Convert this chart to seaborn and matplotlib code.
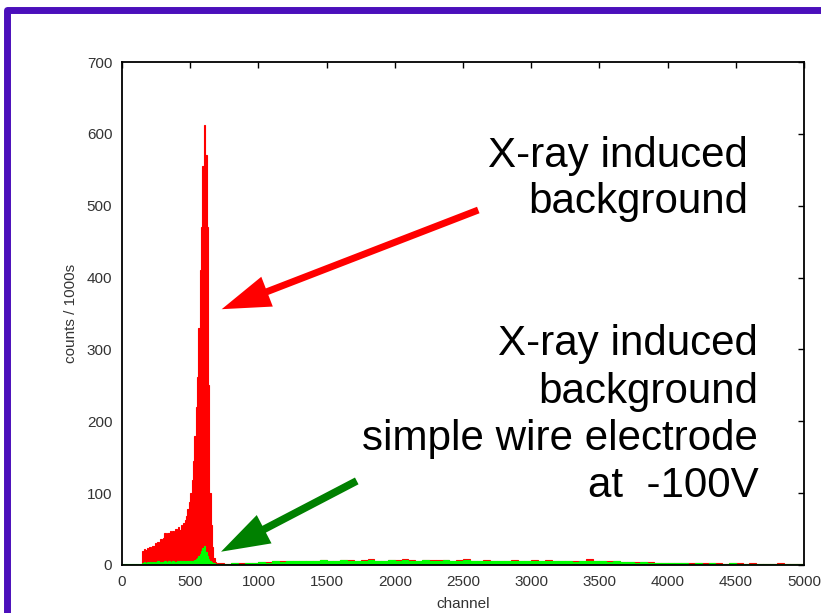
import numpy as np
import pandas as pd
import matplotlib
matplotlib.use("Agg")
import matplotlib.pyplot as plt
from matplotlib.patches import Rectangle
import seaborn as sns

# ---- spectrum data -------------------------------------------------------
# fine bins (10 channels wide) covering 0 .. 700
fine_red = [
    0, 0, 0, 0, 0, 0, 0, 0, 0, 0,            # 0 - 90
    0, 0, 0, 0, 0, 20, 22, 21, 23, 22,       # 100 - 190
    25, 24, 27, 26, 30, 28, 32, 31, 36, 34,  # 200 - 290
    38, 44, 42, 45, 44, 47, 45, 48, 46, 50,  # 300 - 390
    47, 53, 49, 55, 52, 58, 62, 68, 78, 88,  # 400 - 490
    100, 118, 145, 180, 220, 262, 330, 410, 470, 555,  # 500 - 590
    612, 570, 470, 250, 100, 55, 25, 10, 4, 2,          # 600 - 690
]
fine_green = [
    1, 1, 1, 1, 1, 1, 1, 1, 1, 1,
    1, 1, 1, 1, 1, 3, 4, 3, 4, 3,
    4, 3, 4, 4, 3, 4, 5, 3, 4, 4,
    4, 5, 4, 4, 5, 4, 4, 5, 4, 4,
    5, 4, 5, 4, 5, 5, 4, 6, 5, 5,
    5, 6, 6, 7, 8, 10, 13, 15, 19, 24,
    26, 18, 12, 8, 5, 4, 3, 3, 2, 2,
]

# coarse bins (50 channels wide) covering 700 .. 5000
coarse_green = [
    2, 2, 3, 2, 3, 3, 4, 3, 5, 4,            # 700 - 1150
    5, 6, 5, 6, 5, 7, 6, 5, 7, 6,            # 1200 - 1650
    5, 6, 7, 6, 5, 7, 6, 7, 6, 5,            # 1700 - 2150
    7, 6, 6, 7, 5, 6, 7, 6, 5, 6,            # 2200 - 2650
    5, 6, 5, 6, 5, 6, 6, 5, 5, 6,            # 2700 - 3150
    5, 5, 4, 5, 5, 6, 5, 4, 5, 4,            # 3200 - 3650
    4, 3, 4, 3, 3, 3, 3, 3, 3, 2,            # 3700 - 4150
    3, 2, 3, 2, 2, 3, 2, 2, 2, 2,            # 4200 - 4650
    2, 1, 2, 1, 1, 1,                        # 4700 - 4950
]
coarse_red = [
    3, 2, 3, 3, 3, 3, 4, 4, 5, 5,
    6, 6, 6, 6, 6, 7, 6, 6, 7, 7,
    6, 7, 8, 6, 6, 7, 7, 8, 7, 6,
    7, 7, 7, 7, 6, 7, 8, 6, 6, 7,
    6, 6, 6, 7, 6, 6, 7, 6, 7, 6,
    6, 6, 5, 6, 8, 6, 6, 5, 6, 4,
    4, 4, 4, 4, 3, 3, 3, 3, 3, 3,
    3, 3, 3, 3, 2, 3, 3, 2, 3, 2,
    2, 2, 3, 2, 2, 1,
]

fine_edges = list(range(0, 701, 10))
coarse_edges = list(range(750, 5001, 50))
edges = [float(e) for e in fine_edges + coarse_edges]
centers = [(a + b) / 2 for a, b in zip(edges[:-1], edges[1:])]

red_counts = np.array(fine_red + coarse_red, dtype=float)
green_counts = np.array(fine_green + coarse_green, dtype=float)

x_ticks = list(range(0, 5001, 500))
y_ticks = list(range(0, 701, 100))

# ---- figure --------------------------------------------------------------
sns.set_style("white")
plt.rcParams["font.family"] = ["Liberation Sans", "DejaVu Sans"]

fig = plt.figure(figsize=(8.21, 6.13), dpi=100)
ax = fig.add_axes([122 / 821, 48 / 613, 682 / 821, 503 / 613])

for counts, colour in [(red_counts, "#ff0000"), (green_counts, "#00ff00")]:
    sns.histplot(x=np.array(centers), weights=counts, bins=edges,
                 element="bars", fill=True, color=colour, alpha=1,
                 linewidth=0.8, edgecolor=colour, ax=ax)

ax.set_xlim(0, 5000)
ax.set_ylim(0, 700)
ax.set_xticks(x_ticks)
ax.set_yticks(y_ticks)
ax.set_xticklabels([str(t) for t in x_ticks])
ax.set_yticklabels([str(t) for t in y_ticks])
ax.tick_params(direction="in", length=4.5, width=1.0, top=True, right=True,
               labelsize=11, labelcolor="#333333", colors="black",
               pad=7)
for side in ax.spines.values():
    side.set_color("black")
    side.set_linewidth(1.3)
    side.set_zorder(5)
ax.set_axisbelow(False)

ax.set_xlabel("channel", fontsize=11, color="#333333", labelpad=6)
ax.set_ylabel("counts / 1000s", fontsize=11, color="#333333", labelpad=6)

# ---- annotations ---------------------------------------------------------
ax.annotate("", xy=(731, 356), xytext=(2612, 494),
            arrowprops=dict(width=5, headwidth=23, headlength=35,
                            color="#ff0000", lw=0, shrink=0))
ax.annotate("", xy=(726, 18.5), xytext=(1721, 117),
            arrowprops=dict(width=5.5, headwidth=23, headlength=35,
                            color="#008000", lw=0, shrink=0))

text_size = 30.3
for line, y in [("X-ray induced", 554.3), ("background", 489.4)]:
    ax.text(4592, y, line, ha="right", va="baseline",
            fontsize=text_size, color="black")
for line, y in [("X-ray induced", 292.2), ("background", 225.0),
                ("simple wire electrode", 160.0), ("at  -100V", 95.1)]:
    ax.text(4665, y, line, ha="right", va="baseline",
            fontsize=text_size, color="black")

# slide frame
fig.add_artist(Rectangle((7 / 821, -0.2), 1.5, 1.2 - 10 / 613,
                         transform=fig.transFigure, fill=False,
                         edgecolor="#4b0fbb", linewidth=5,
                         joinstyle="round", clip_on=False))

fig.savefig("out.png", dpi=100)
